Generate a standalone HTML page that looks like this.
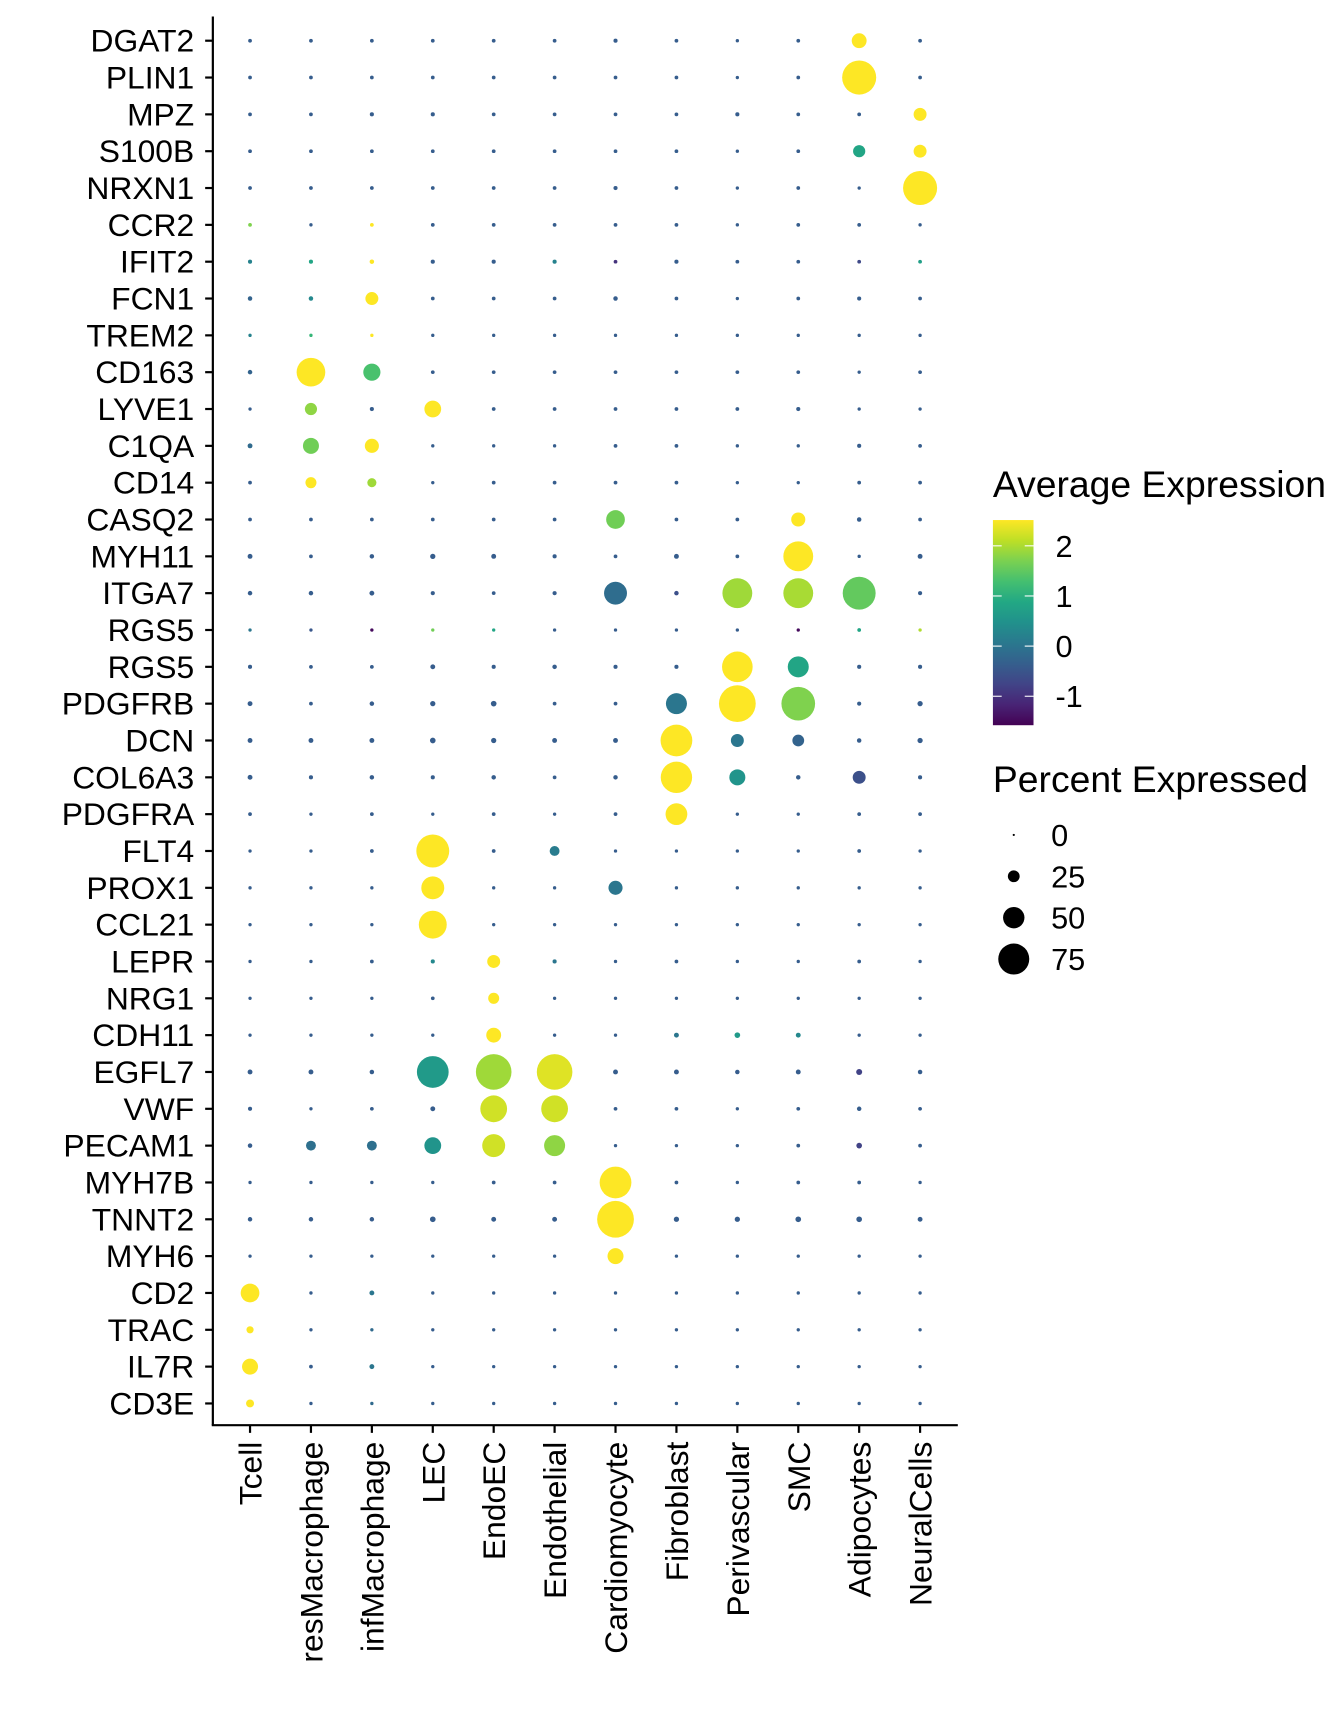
<!DOCTYPE html>
<html><head><meta charset="utf-8"><style>
html,body{margin:0;padding:0;background:#fff;}
svg{display:block;font-family:"Liberation Sans",Arial,sans-serif;}
</style></head><body>
<svg id="chart" width="1344" height="1728" viewBox="0 0 1225 1575" xmlns="http://www.w3.org/2000/svg">
<defs><linearGradient id="vir" x1="0" y1="1" x2="0" y2="0">
<stop offset="0" stop-color="#440154"/><stop offset="0.1" stop-color="#482475"/><stop offset="0.2" stop-color="#414487"/><stop offset="0.3" stop-color="#355f8d"/><stop offset="0.4" stop-color="#2a788e"/><stop offset="0.5" stop-color="#21918c"/><stop offset="0.6" stop-color="#22a884"/><stop offset="0.7" stop-color="#44bf70"/><stop offset="0.8" stop-color="#7ad151"/><stop offset="0.9" stop-color="#bddf26"/><stop offset="1" stop-color="#fde725"/>
</linearGradient></defs>
<g id="dots"></g>
<g id="axes"></g>
<g id="legend"></g>
</svg>
<script>
const cellTypes = ["Tcell","resMacrophage","infMacrophage","LEC","EndoEC","Endothelial","Cardiomyocyte","Fibroblast","Perivascular","SMC","Adipocytes","NeuralCells"];
const genes = ["DGAT2","PLIN1","MPZ","S100B","NRXN1","CCR2","IFIT2","FCN1","TREM2","CD163","LYVE1","C1QA","CD14","CASQ2","MYH11","ITGA7","RGS5","RGS5","PDGFRB","DCN","COL6A3","PDGFRA","FLT4","PROX1","CCL21","LEPR","NRG1","CDH11","EGFL7","VWF","PECAM1","MYH7B","TNNT2","MYH6","CD2","TRAC","IL7R","CD3E"];
const pctExpressed = [
[4,4,4,4,4,4,5,4,3,4,33,4],
[4,4,4,4,4,4,4,4,3,4,83,4],
[4,4,5,5,4,4,4,4,5,4,4,28],
[4,4,4,4,4,4,4,4,3,4,26,28],
[4,4,4,4,4,4,5,4,3,4,3,83],
[4,3,4,4,4,4,4,4,3,4,4,3],
[5,5,6,5,5,5,4,5,4,4,4,4],
[6,6,28,4,4,4,6,4,3,4,5,4],
[3,3,3,3,3,3,3,3,3,3,3,3],
[6,69,39,4,4,4,4,4,4,4,3,4],
[3,26,5,38,4,4,4,4,4,5,3,3],
[7,36,31,3,3,3,4,4,3,3,5,4],
[4,23,18,3,4,4,4,4,3,3,4,4],
[4,4,4,4,4,4,43,4,4,31,6,4],
[7,4,6,8,7,5,4,7,4,72,3,7],
[6,6,7,5,4,5,54,6,72,72,80,5],
[3,3,3,3,3,3,3,3,3,3,4,3],
[5,4,4,7,5,6,5,5,74,49,5,5],
[7,4,6,8,9,4,4,49,90,82,5,8],
[7,7,7,9,8,7,7,77,28,25,6,8],
[7,5,6,5,6,4,6,76,36,6,28,5],
[4,3,4,3,4,3,4,51,3,3,4,4],
[3,3,4,80,4,20,3,3,3,3,4,3],
[3,3,3,54,3,3,31,3,3,3,3,3],
[3,3,3,67,3,3,3,3,3,3,3,3],
[3,3,4,5,28,5,3,4,3,3,4,3],
[3,3,3,4,23,3,3,3,3,3,3,3],
[3,3,3,3,33,3,3,7,9,7,3,3],
[7,7,6,77,87,87,7,7,6,7,10,6],
[5,3,4,7,64,64,4,4,3,4,6,4],
[6,20,20,38,54,49,3,3,3,4,9,4],
[3,3,3,3,4,4,77,4,3,4,4,3],
[6,6,6,9,7,7,90,8,8,9,9,7],
[3,3,3,3,3,3,36,3,3,3,3,3],
[43,3,7,3,3,3,3,3,3,3,3,3],
[13,3,3,3,3,3,3,3,3,3,3,3],
[36,4,7,3,3,3,3,3,3,3,3,3],
[15,3,3,3,3,3,3,3,3,3,3,3]];
const avgExpression = [
[-.4,-.4,-.4,-.4,-.4,-.4,-.4,-.4,-.4,-.4,2.5,-.4],
[-.4,-.4,-.4,-.4,-.4,-.4,-.4,-.4,-.4,-.4,2.5,-.4],
[-.4,-.4,-.4,-.4,-.4,-.4,-.4,-.4,-.4,-.4,-.4,2.5],
[-.4,-.4,-.4,-.4,-.4,-.4,-.4,-.4,-.4,-.4,0.8,2.5],
[-.4,-.4,-.4,-.4,-.4,-.4,-.4,-.4,-.4,-.4,-.4,2.5],
[1.7,-.4,2.5,-.4,-.4,-.4,-.4,-.4,-.4,-.4,-.4,-.4],
[0.2,0.8,2.5,-.4,-.4,0.2,-1,-.4,-.4,-.4,-.7,0.7],
[-0.3,0.3,2.5,-.4,-.4,-.4,-.4,-.4,-.4,-.4,-.4,-.4],
[0.2,1.1,2.5,-.4,-.4,-.4,-.4,-.4,-.4,-.4,-.4,-.4],
[-0.3,2.5,1.3,-.4,-.4,-.4,-.4,-.4,-.4,-.4,-.4,-.4],
[-.4,1.8,-.4,2.5,-.4,-.4,-.4,-.4,-.4,-.4,-.4,-.4],
[-0.2,1.6,2.5,-.4,-.4,-.4,-.4,-.4,-.4,-.4,-.4,-.4],
[-.4,2.5,1.9,-.4,-.4,-.4,-.4,-.4,-.4,-.4,-.4,-.4],
[-.4,-.4,-.4,-.4,-.4,-.4,1.6,-.4,-.4,2.5,-0.4,-.4],
[-.4,-.4,-.4,-.4,-.4,-.4,-.4,-.4,-.4,2.5,-.4,-.4],
[-.4,-.4,-.4,-.4,-.4,-.4,-0.15,-0.6,1.9,1.95,1.5,-.4],
[0,-.5,-1.5,1.6,0.8,-.4,-.4,-.4,-.4,-1.5,0.8,2.0],
[-.4,-.4,-.4,-.4,-.4,-.4,-.4,-.4,2.5,0.8,-.4,-.4],
[-.4,-.4,-.4,-.4,-.4,-.4,-.4,0.0,2.5,1.7,-.4,-.4],
[-.4,-.4,-.4,-.4,-.4,-.4,-.4,2.5,0.0,-0.3,-.4,-.4],
[-.4,-.4,-.4,-.4,-.4,-.4,-.4,2.5,0.5,-.4,-0.6,-.4],
[-.4,-.4,-.4,-.4,-.4,-.4,-.4,2.5,-.4,-.4,-.4,-.4],
[-.4,-.4,-.4,2.5,-.4,0.1,-.4,-.4,-.4,-.4,-.4,-.4],
[-.4,-.4,-.4,2.5,-.4,-.4,0.0,-.4,-.4,-.4,-.4,-.4],
[-.4,-.4,-.4,2.5,-.4,-.4,-.4,-.4,-.4,-.4,-.4,-.4],
[-.4,-.4,-.4,0.3,2.5,0.0,-.4,-.4,-.4,-.4,-.4,-.4],
[-.4,-.4,-.4,-.4,2.5,-.4,-.4,-.4,-.4,-.4,-.4,-.4],
[-.4,-.4,-.4,-.4,2.5,-.4,-.4,0.0,0.6,0.3,-.4,-.4],
[-.4,-.4,-.4,0.6,1.9,2.3,-.4,-.4,-.4,-.4,-0.8,-.4],
[-.4,-.4,-.4,-.4,2.2,2.2,-.4,-.4,-.4,-.4,-.4,-.4],
[-.4,-0.1,-0.1,0.5,2.2,1.8,-.4,-.4,-.4,-.4,-0.8,-.4],
[-.4,-.4,-.4,-.4,-.4,-.4,2.5,-.4,-.4,-.4,-.4,-.4],
[-.4,-.4,-.4,-.4,-.4,-.4,2.5,-.4,-.4,-.4,-.4,-.4],
[-.4,-.4,-.4,-.4,-.4,-.4,2.5,-.4,-.4,-.4,-.4,-.4],
[2.5,-.4,0.0,-.4,-.4,-.4,-.4,-.4,-.4,-.4,-.4,-.4],
[2.5,-.4,-0.2,-.4,-.4,-.4,-.4,-.4,-.4,-.4,-.4,-.4],
[2.5,-.4,0.0,-.4,-.4,-.4,-.4,-.4,-.4,-.4,-.4,-.4],
[2.5,-.4,-0.2,-.4,-.4,-.4,-.4,-.4,-.4,-.4,-.4,-.4]];
const colorTicks = [2,1,0,-1];
const sizeTicks = [0,25,50,75];

const NS="http://www.w3.org/2000/svg";
const CMIN=-1.6, CMAX=2.49;
const X0=227.9, XSTEP=55.52, Y0=37.1, YSTEP=33.57;
const AXX=194, AXY=1299;
function xScale(i){return X0+i*XSTEP;}
function yScale(j){return Y0+j*YSTEP;}
function rScale(p){return 1+0.175*p;}
const vstops=["#440154","#482475","#414487","#355f8d","#2a788e","#21918c","#22a884","#44bf70","#7ad151","#bddf26","#fde725"];
function hex(c){return [1,3,5].map(k=>parseInt(c.substr(k,2),16));}
function colorScale(v){
  let t=(v-CMIN)/(CMAX-CMIN); t=Math.max(0,Math.min(1,t));
  const f=t*10, i=Math.min(9,Math.floor(f)), u=f-i;
  const a=hex(vstops[i]), b=hex(vstops[i+1]);
  return "rgb("+a.map((x,k)=>Math.round(x+(b[k]-x)*u)).join(",")+")";
}
function mk(tag,attrs,parent,txt){const e=document.createElementNS(NS,tag);for(const k in attrs)e.setAttribute(k,attrs[k]);if(txt!==undefined)e.textContent=txt;parent.appendChild(e);return e;}

const dots=document.getElementById('dots');
genes.forEach((g,j)=>{
  cellTypes.forEach((c,i)=>{
    const el=mk('circle',{cx:xScale(i),cy:yScale(j),r:rScale(pctExpressed[j][i]),fill:colorScale(avgExpression[j][i])},dots);
    
    
  });
});

const axes=document.getElementById('axes');
const yl=mk('line',{x1:AXX,y1:15,x2:AXX,y2:AXY,stroke:'#000','stroke-width':2},axes);


const xl=mk('line',{x1:AXX-1,y1:AXY,x2:873,y2:AXY,stroke:'#000','stroke-width':2},axes);


genes.forEach((g,j)=>{
  mk('line',{x1:AXX-7,y1:yScale(j),x2:AXX,y2:yScale(j),stroke:'#000','stroke-width':2},axes);
  const t=mk('text',{x:177,y:yScale(j)+10,'text-anchor':'end','font-size':29,fill:'#000'},axes,g);
  
  
});
cellTypes.forEach((c,i)=>{
  mk('line',{x1:xScale(i),y1:AXY,x2:xScale(i),y2:AXY+7,stroke:'#000','stroke-width':2},axes);
  const t=mk('text',{x:0,y:0,'text-anchor':'end','font-size':29,fill:'#000',transform:'translate('+(xScale(i)+10.5)+',1314) rotate(-90)'},axes,c);
  
  
});

const lg=document.getElementById('legend');
const t1=mk('text',{x:905,y:453,'font-size':34,fill:'#000'},lg,'Average Expression');


const bar=mk('rect',{x:905,y:474,width:37,height:187,fill:'url(#vir)'},lg);


function cbY(v){return 497.5+(2-v)*45.7;}
colorTicks.forEach(v=>{
  const y=cbY(v);
  mk('line',{x1:905,y1:y,x2:913,y2:y,stroke:'#fff','stroke-width':1},lg);
  mk('line',{x1:934,y1:y,x2:942,y2:y,stroke:'#fff','stroke-width':1},lg);
  const t=mk('text',{x:962,y:y+10,'font-size':28,fill:'#000'},lg,String(v));
  
  
});
const t2=mk('text',{x:905,y:722,'font-size':34,fill:'#000'},lg,'Percent Expressed');


sizeTicks.forEach((p,k)=>{
  const y=761+k*37.7;
  const c=mk('circle',{cx:924,cy:y,r:rScale(p),fill:'#000'},lg);
  
  
  const t=mk('text',{x:958,y:y+10,'font-size':28,fill:'#000'},lg,String(p));
  
  
});
</script>
</body></html>
